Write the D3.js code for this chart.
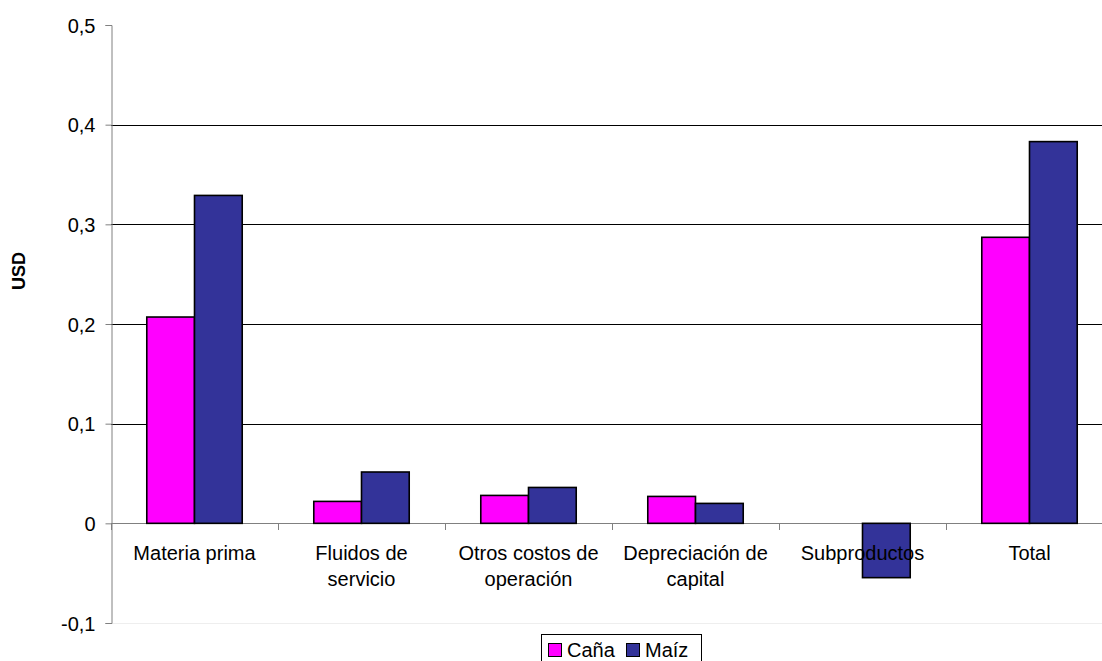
<!DOCTYPE html>
<html>
<head>
<meta charset="utf-8">
<script src="https://cdnjs.cloudflare.com/ajax/libs/d3/7.8.5/d3.min.js"></script>
<style>
  html, body { margin: 0; padding: 0; background: #fff; }
  svg { display: block; font-family: "Liberation Sans", Arial, sans-serif; }
</style>
</head>
<body>
<svg id="chart" width="1102" height="661"></svg>
<script>
// Cost breakdown per unit of ethanol, sugar cane vs. corn
const categories = ["Materia prima", "Fluidos de servicio", "Otros costos de operación", "Depreciación de capital", "Subproductos", "Total"];
const categoryLines = [["Materia prima"], ["Fluidos de", "servicio"], ["Otros costos de", "operación"], ["Depreciación de", "capital"], ["Subproductos"], ["Total"]];
const seriesNames = ["Caña", "Maíz"];
const canaValues = [0.207, 0.022, 0.028, 0.027, 0, 0.287];
const maizValues = [0.329, 0.0515, 0.036, 0.020, -0.0545, 0.383];
const yTicks = [-0.1, 0, 0.1, 0.2, 0.3, 0.4, 0.5];
const yTickLabels = ["-0,1", "0", "0,1", "0,2", "0,3", "0,4", "0,5"];
const colors = ["#FF00FF", "#333399"];

const svg = d3.select("#chart");
const W = 1102, H = 661;
const plot = { left: 111, right: 1113, top: 25, bottom: 623 };

svg.append("rect").attr("width", W).attr("height", H).attr("fill", "#fff");

const x = d3.scaleBand().domain(categories).range([plot.left, plot.right]).paddingInner(0).paddingOuter(0);
const xs = d3.scaleBand().domain(seriesNames).range([0, x.bandwidth()]).paddingInner(0).paddingOuter(0.75);
const y = d3.scaleLinear().domain([-0.1, 0.5]).range([plot.bottom, plot.top]);

const crisp = v => Math.round(v) + 0.5;

// faint plot-area border at the bottom
svg.append("line")
  .attr("x1", plot.left).attr("x2", W)
  .attr("y1", crisp(plot.bottom)).attr("y2", crisp(plot.bottom))
  .attr("stroke", "#eeeeee").attr("stroke-width", 1);

// horizontal gridlines
svg.append("g").selectAll("line")
  .data(yTicks.filter(t => t > 0 && t < 0.5))
  .join("line")
  .attr("x1", plot.left).attr("x2", W)
  .attr("y1", d => crisp(y(d))).attr("y2", d => crisp(y(d)))
  .attr("stroke", "#000").attr("stroke-width", 1);

// zero baseline with category ticks
const xAxis = d3.axisBottom(x).tickSize(0).tickFormat("");
const xAxisG = svg.append("g").attr("transform", `translate(0,${crisp(y(0)) - 0.5})`).call(xAxis);
xAxisG.select(".domain").attr("stroke", "#808080").attr("d", `M${plot.left},0.5H${W}`);
const bounds = categories.map(c => x(c)).concat([plot.right]);
xAxisG.selectAll(".bound").data(bounds).join("line")
  .attr("class", "bound")
  .attr("x1", d => crisp(d)).attr("x2", d => crisp(d))
  .attr("y1", 0).attr("y2", 7)
  .attr("stroke", "#808080");

// bars
const groups = svg.append("g").selectAll("g")
  .data(categories.map((c, i) => ({ c, vals: [canaValues[i], maizValues[i]] })))
  .join("g")
  .attr("transform", d => `translate(${x(d.c)},0)`);

groups.selectAll("rect")
  .data(d => d.vals.map((v, j) => ({ v, s: seriesNames[j], j })).filter(e => e.v !== 0))
  .join("rect")
  .attr("x", d => xs(d.s))
  .attr("width", xs.bandwidth())
  .attr("y", d => y(Math.max(0, d.v)))
  .attr("height", d => Math.abs(y(d.v) - y(0)))
  .attr("fill", d => colors[d.j])
  .attr("stroke", "#000")
  .attr("stroke-width", 1.6);

// y axis
const yAxis = d3.axisLeft(y).tickValues(yTicks).tickSize(6)
  .tickFormat((d, i) => yTickLabels[i]);
const yAxisG = svg.append("g").attr("transform", `translate(${plot.left + 0.5},0)`).call(yAxis);
yAxisG.select(".domain").attr("stroke", "#808080");
yAxisG.selectAll(".tick line").attr("stroke", "#808080");
yAxisG.selectAll(".tick text")
  .attr("x", -16)
  .attr("dy", "0.36em")
  .attr("font-size", 20)
  .attr("font-family", "'Liberation Sans', Arial, sans-serif")
  .attr("fill", "#000");

// category labels
const labelG = svg.append("g");
categoryLines.forEach((lines, i) => {
  const t = labelG.append("text")
    .attr("x", x(categories[i]) + x.bandwidth() / 2)
    .attr("y", 560)
    .attr("text-anchor", "middle")
    .attr("font-size", 20)
    .attr("fill", "#000");
  lines.forEach((ln, k) => {
    t.append("tspan")
      .attr("x", x(categories[i]) + x.bandwidth() / 2)
      .attr("y", 560 + k * 26)
      .text(ln);
  });
});

// y axis title
svg.append("text")
  .attr("transform", "translate(25,271) rotate(-90)")
  .attr("text-anchor", "middle")
  .attr("font-size", 18)
  .attr("font-weight", "bold")
  .attr("fill", "#000")
  .text("USD");

// legend
const legend = svg.append("g");
legend.append("rect")
  .attr("x", 541.5).attr("y", 634.5)
  .attr("width", 160).attr("height", 40)
  .attr("fill", "#fff").attr("stroke", "#000").attr("stroke-width", 1);
const legendX = [548, 626];
seriesNames.forEach((s, i) => {
  legend.append("rect")
    .attr("x", legendX[i] + 0.5).attr("y", 643.5)
    .attr("width", 13).attr("height", 13)
    .attr("fill", colors[i]).attr("stroke", "#000").attr("stroke-width", 1);
  legend.append("text")
    .attr("x", legendX[i] + 19).attr("y", 657)
    .attr("font-size", 20)
    .attr("fill", "#000")
    .text(s);
});
</script>
</body>
</html>
